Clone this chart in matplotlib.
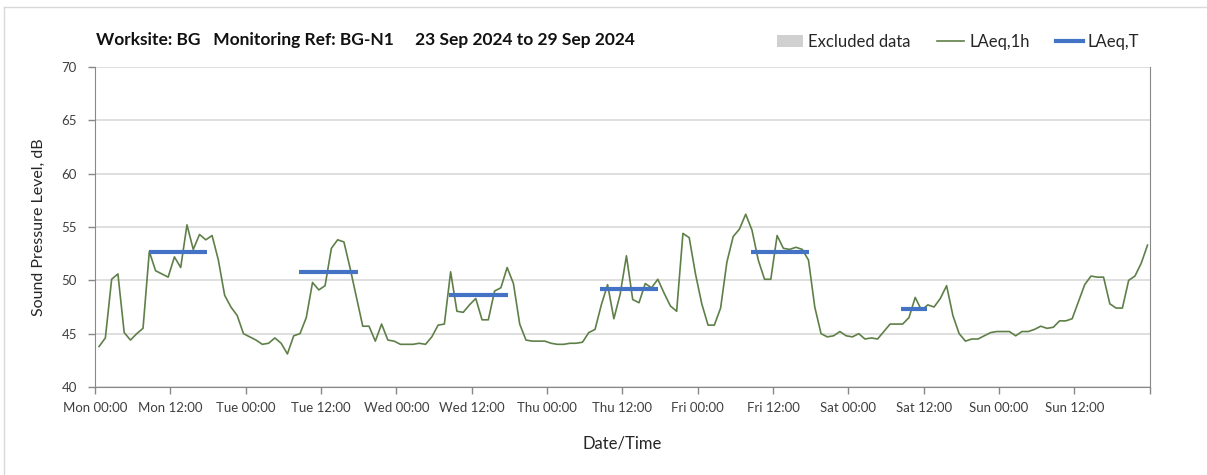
import numpy as np
import matplotlib
matplotlib.use('Agg')
import matplotlib.pyplot as plt
from matplotlib.patches import Patch
from matplotlib.lines import Line2D

plt.rcParams['font.family'] = ['Lato', 'DejaVu Sans']

# hourly LAeq,1h values (dB), Mon 00:00 onwards
laeq_1h = [
    43.8, 44.6, 50.1, 50.6, 45.1, 44.4, 45.0, 45.5, 52.7, 50.9,
    50.6, 50.3, 52.2, 51.2, 55.2, 52.9, 54.3, 53.8, 54.2, 51.9,
    48.6, 47.5, 46.7, 45.0, 44.7, 44.4, 44.0, 44.1, 44.6, 44.1,
    43.1, 44.8, 45.0, 46.5, 49.8, 49.1, 49.5, 53.0, 53.8, 53.6,
    51.1, 48.4, 45.7, 45.7, 44.3, 45.9, 44.4, 44.3, 44.0, 44.0,
    44.0, 44.1, 44.0, 44.7, 45.8, 45.9, 50.8, 47.1, 47.0, 47.7,
    48.3, 46.3, 46.3, 49.0, 49.3, 51.2, 49.7, 45.9, 44.4, 44.3,
    44.3, 44.3, 44.1, 44.0, 44.0, 44.1, 44.1, 44.2, 45.1, 45.4,
    47.7, 49.6, 46.4, 48.7, 52.3, 48.2, 47.9, 49.7, 49.3, 50.1,
    48.8, 47.6, 47.1, 54.4, 54.0, 50.6, 47.8, 45.8, 45.8, 47.4,
    51.7, 54.1, 54.8, 56.2, 54.7, 51.9, 50.1, 50.1, 54.2, 53.0,
    52.9, 53.1, 52.9, 51.9, 47.5, 45.0, 44.7, 44.8, 45.2, 44.8,
    44.7, 45.0, 44.5, 44.6, 44.5, 45.2, 45.9, 45.9, 45.9, 46.5,
    48.4, 47.2, 47.7, 47.5, 48.3, 49.5, 46.7, 45.0, 44.3, 44.5,
    44.5, 44.8, 45.1, 45.2, 45.2, 45.2, 44.8, 45.2, 45.2, 45.4,
    45.7, 45.5, 45.6, 46.2, 46.2, 46.4, 48.0, 49.6, 50.4, 50.3,
    50.3, 47.8, 47.4, 47.4, 50.0, 50.4, 51.6, 53.3,
]
hour_offset = 0.65
hours = np.arange(len(laeq_1h)) + hour_offset

# LAeq,T periods: start hour, end hour, level
laeq_t_start = [8.64, 32.5, 56.45, 80.43, 104.46, 128.4]
laeq_t_end = [17.77, 41.86, 65.73, 89.72, 113.69, 132.5]
laeq_t_level = [52.7, 50.8, 48.6, 49.2, 52.7, 47.3]

tick_labels = ['Mon 00:00', 'Mon 12:00', 'Tue 00:00', 'Tue 12:00',
               'Wed 00:00', 'Wed 12:00', 'Thu 00:00', 'Thu 12:00',
               'Fri 00:00', 'Fri 12:00', 'Sat 00:00', 'Sat 12:00',
               'Sun 00:00', 'Sun 12:00', '']

green = '#5f7f48'
blue = '#4472c4'
txt = '#262626'

fig = plt.figure(figsize=(12.07, 4.75), dpi=100)
ax = fig.add_axes([95/1207, 1-387/475, (1149.7-95)/1207, (387-67)/475])

# faint outer frame (top and left edges)
fig.add_artist(Line2D([4/1207, 1], [1-7/475, 1-7/475], color='#d9d9d9', lw=1))
fig.add_artist(Line2D([4/1207, 4/1207], [0, 1-7/475], color='#d9d9d9', lw=1))

ax.plot(hours, laeq_1h, color=green, lw=1.2, zorder=3)
for s, e, v in zip(laeq_t_start, laeq_t_end, laeq_t_level):
    ax.plot([s, e], [v, v], color=blue, lw=3, solid_capstyle='butt', zorder=4)

ax.set_xlim(0, 168)
ax.set_ylim(40, 70)
ax.set_yticks(np.arange(40, 71, 5))
ax.set_xticks(np.arange(0, 169, 12))
ax.set_xticklabels(tick_labels)
ax.set_xticks(np.arange(24, 168, 24), minor=True)

ax.grid(axis='y', color='#d9d9d9', lw=1.2)
ax.grid(axis='x', which='minor', color='#d9d9d9', lw=1.2)
ax.grid(axis='x', which='major', visible=False)
ax.tick_params(axis='x', which='minor', length=0)
ax.tick_params(axis='both', which='major', length=5, color='#888888',
               labelsize=9.5, labelcolor='#404040', width=1)
ax.tick_params(axis='x', pad=6)
ax.tick_params(axis='y', pad=8)
ax.set_axisbelow(True)

for side in ['left', 'bottom', 'right']:
    ax.spines[side].set_color('#888888')
ax.spines['top'].set_visible(False)

ax.set_ylabel('Sound Pressure Level, dB', fontsize=11.5, color=txt, labelpad=11)
ax.set_xlabel('Date/Time', fontsize=12, color=txt, labelpad=15)

fig.text(96/1207, 1-40/475, 'Worksite: BG   Monitoring Ref: BG-N1     23 Sep 2024 to 29 Sep 2024',
         fontsize=12.5, fontweight='bold', color='#111111', va='center')

handles = [Patch(facecolor='#d0d0d0', edgecolor='none', label='Excluded data'),
           Line2D([], [], color=green, lw=1.2, label='LAeq,1h'),
           Line2D([], [], color=blue, lw=3, label='LAeq,T')]
fig.legend(handles=handles, loc='center', bbox_to_anchor=(958/1207, 1-42/475), ncol=3,
           frameon=False, fontsize=12, handlelength=1.6, handletextpad=0.3,
           columnspacing=1.6, labelcolor=txt)

fig.savefig('out.png', dpi=100)
